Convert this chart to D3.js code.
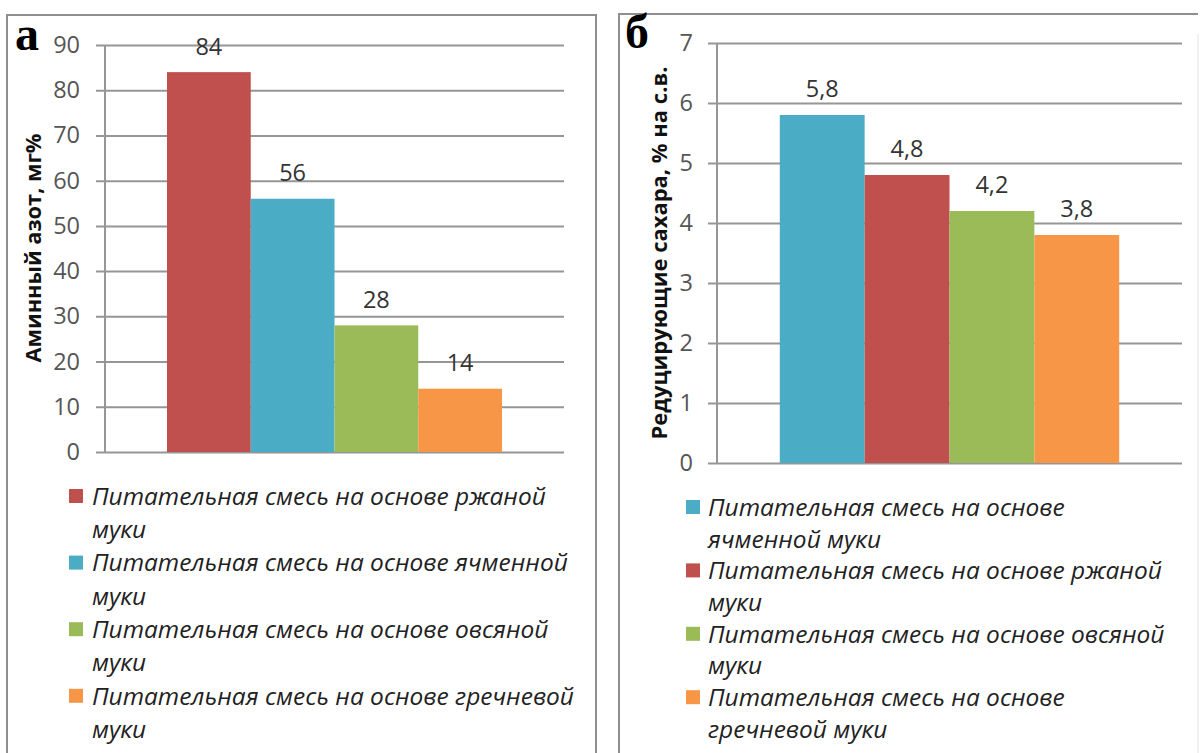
<!DOCTYPE html>
<html><head><meta charset="utf-8">
<script src="https://cdn.jsdelivr.net/npm/d3@7"></script>
<style>body{margin:0;background:#fff;} svg{display:block}</style>
</head><body><svg id="c" width="1203" height="753"></svg>
<script>
// ---------- DATA ----------
// Panel а
const letterA = "а";
const titleA = "Аминный азот, мг%";
const seriesA = [
  "Питательная смесь на основе ржаной муки",
  "Питательная смесь на основе ячменной муки",
  "Питательная смесь на основе овсяной муки",
  "Питательная смесь на основе гречневой муки"
];
const valuesA = [84, 56, 28, 14];
const ticksA = [0, 10, 20, 30, 40, 50, 60, 70, 80, 90];

// Panel б
const letterB = "б";
const titleB = "Редуцирующие сахара, % на с.в.";
const seriesB = [
  "Питательная смесь на основе ячменной муки",
  "Питательная смесь на основе ржаной муки",
  "Питательная смесь на основе овсяной муки",
  "Питательная смесь на основе гречневой муки"
];
const valuesB = [5.8, 4.8, 4.2, 3.8];
const ticksB = [0, 1, 2, 3, 4, 5, 6, 7];

// ---------- STYLE / LAYOUT ----------
const flourKeys = ["ржаной", "ячменной", "овсяной", "гречневой"];
const flourColors = ["#C0504D", "#4BACC6", "#9BBB59", "#F79646"];
const colorOf = name => flourColors[flourKeys.findIndex(k => name.includes(k))];

const svg = d3.select("#c");
const SANS = "'Open Sans', 'Noto Sans', sans-serif";

// text measuring helper
const meas = svg.append("text").attr("x", -1000).attr("y", -1000);
function textWidth(str, size, weight, style) {
  meas.attr("font-family", SANS).attr("font-size", size)
      .attr("font-weight", weight || "normal").attr("font-style", style || "normal")
      .text(str);
  return meas.node().getComputedTextLength();
}
function fitSize(str, target, weight, style) {
  return 100 * target / textWidth(str, 100, weight, style);
}
function wrap(str, maxW, size, style) {
  const words = str.split(" ");
  const lines = [];
  let cur = "";
  words.forEach(w => {
    const t = cur ? cur + " " + w : w;
    if (cur && textWidth(t, size, "normal", style) > maxW) { lines.push(cur); cur = w; }
    else cur = t;
  });
  if (cur) lines.push(cur);
  return lines;
}

const fmt = v => d3.format("")(v).replace(".", ",");

const legendSize = fitSize("Питательная смесь на основе ржаной", 454, "normal", "italic");

function drawPanel(cfg) {
  const g = svg.append("g");
  // frame
  g.append("path")
    .attr("d", `M${cfg.frame.x},${cfg.frame.bottom} V${cfg.frame.y} H${cfg.frame.right}` +
               (cfg.frame.closeRight ? ` V${cfg.frame.bottom}` : ""))
    .attr("fill", "none").attr("stroke", "#8f8f8f").attr("stroke-width", 2);
  if (!cfg.frame.closeRight) {
    g.append("line").attr("x1", cfg.frame.right).attr("x2", cfg.frame.right)
      .attr("y1", cfg.frame.y + 20).attr("y2", cfg.frame.bottom)
      .attr("stroke", "#ececec").attr("stroke-width", 1.5);
  }

  const y = d3.scaleLinear().domain([cfg.ticks[0], cfg.ticks[cfg.ticks.length - 1]])
    .range([cfg.plot.bottom, cfg.plot.top]);
  const outer = d3.scaleBand().domain([""]).range([cfg.plot.l, cfg.plot.r]).paddingOuter(0.185);
  const x = d3.scaleBand().domain(cfg.series).range([outer(""), outer("") + outer.bandwidth()]).padding(0);

  // gridlines + tick labels
  const W = cfg.plot.r - cfg.plot.l;
  const axis = d3.axisLeft(y).tickValues(cfg.ticks).tickSizeInner(-(W + cfg.tickExt)).tickSizeOuter(0)
    .tickPadding(cfg.tickPad).tickFormat(fmt);
  const ag = g.append("g").attr("transform", `translate(${cfg.plot.l - cfg.tickExt},0)`).call(axis);
  ag.select(".domain").remove();
  ag.selectAll(".tick line").attr("stroke", "#969696").attr("stroke-width", 2);
  ag.selectAll(".tick text").attr("font-family", SANS).attr("font-size", 23.5).attr("fill", "#555");

  // vertical axis line
  g.append("line").attr("x1", cfg.plot.l).attr("x2", cfg.plot.l)
    .attr("y1", cfg.plot.top).attr("y2", cfg.plot.bottom)
    .attr("stroke", "#969696").attr("stroke-width", 2);

  // bars
  g.selectAll("rect.bar").data(cfg.series.map((s, i) => ({ s, v: cfg.values[i] })))
    .enter().append("rect").attr("class", "bar")
    .attr("x", d => x(d.s)).attr("width", x.bandwidth())
    .attr("y", d => y(d.v)).attr("height", d => y(0) - y(d.v))
    .attr("fill", d => colorOf(d.s));

  // value labels
  g.selectAll("text.val").data(cfg.series.map((s, i) => ({ s, v: cfg.values[i] })))
    .enter().append("text").attr("class", "val")
    .attr("x", d => x(d.s) + x.bandwidth() / 2).attr("y", d => y(d.v) - 26)
    .attr("dy", "0.36em").attr("text-anchor", "middle")
    .attr("font-family", SANS).attr("font-size", 23.5).attr("fill", "#333")
    .text(d => fmt(d.v));

  // y title
  const tSize = fitSize(cfg.title, cfg.titleLen, "bold");
  g.append("text")
    .attr("transform", `translate(${cfg.titleX},${cfg.titleY}) rotate(-90)`)
    .attr("text-anchor", "middle").attr("dy", "0.36em")
    .attr("font-family", SANS).attr("font-weight", "bold").attr("font-size", tSize)
    .attr("fill", "#111").text(cfg.title);

  // panel letter
  g.append("text").attr("x", cfg.letter.x).attr("y", cfg.letter.y)
    .attr("font-family", "'Liberation Serif', 'Times New Roman', serif")
    .attr("font-weight", "bold").attr("font-size", 48).attr("fill", "#000")
    .text(cfg.letterText);

  // legend
  let line = 0;
  cfg.series.forEach(s => {
    const lines = wrap(s, cfg.legend.wrap, legendSize, "italic");
    const cy = cfg.legend.firstY + line * cfg.legend.lineH;
    g.append("rect").attr("x", cfg.legend.markerX).attr("y", cy - 7)
      .attr("width", 14).attr("height", 14).attr("fill", colorOf(s));
    lines.forEach((ln, j) => {
      g.append("text").attr("x", cfg.legend.textX)
        .attr("y", cfg.legend.firstY + (line + j) * cfg.legend.lineH).attr("dy", "0.36em")
        .attr("font-family", SANS).attr("font-style", "italic").attr("font-size", legendSize)
        .attr("fill", "#222").text(ln);
    });
    line += lines.length;
  });
}

drawPanel({
  frame: { x: 7, y: 15, right: 596, bottom: 760, closeRight: true },
  plot: { l: 105, r: 564, top: 45, bottom: 452 },
  ticks: ticksA, series: seriesA, values: valuesA,
  tickExt: 9, tickPad: 16,
  title: titleA, titleLen: 229, titleX: 33, titleY: 248,
  letterText: letterA, letter: { x: 15, y: 50 },
  legend: { markerX: 69, textX: 92, firstY: 496, lineH: 33.3, wrap: 495 }
});
drawPanel({
  frame: { x: 619, y: 14, right: 1198, bottom: 760, closeRight: false },
  plot: { l: 717, r: 1182, top: 43, bottom: 463 },
  ticks: ticksB, series: seriesB, values: valuesB,
  tickExt: 9, tickPad: 15,
  title: titleB, titleLen: 373, titleX: 659, titleY: 253,
  letterText: letterB, letter: { x: 625, y: 48 },
  legend: { markerX: 686, textX: 708, firstY: 507, lineH: 31.7, wrap: 465 }
});
meas.remove();
</script>
</body></html>
